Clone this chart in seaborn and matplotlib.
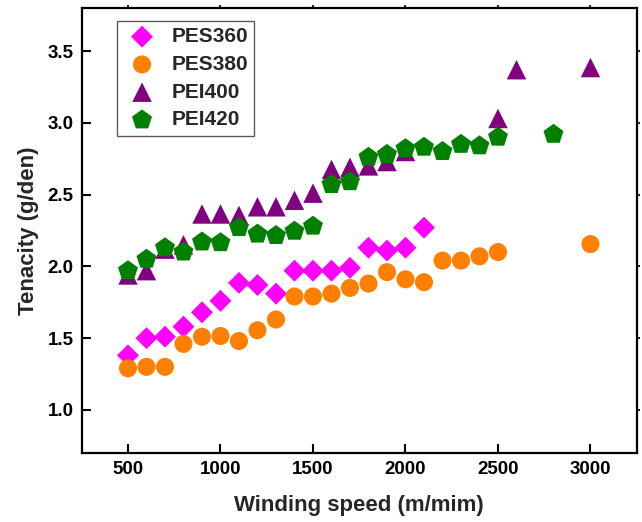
import matplotlib
matplotlib.use("Agg")
import matplotlib.pyplot as plt
import seaborn as sns
import pandas as pd

# ---- data ----
x_pes360 = [500, 600, 700, 800, 900, 1000, 1100, 1200, 1300, 1400, 1500, 1600, 1700, 1800, 1900, 2000, 2100]
y_pes360 = [1.38, 1.50, 1.51, 1.58, 1.68, 1.76, 1.885, 1.87, 1.81, 1.97, 1.97, 1.97, 1.99, 2.13, 2.11, 2.13, 2.27]

x_pes380 = [500, 600, 700, 800, 900, 1000, 1100, 1200, 1300, 1400, 1500, 1600, 1700, 1800, 1900, 2000, 2100, 2200, 2300, 2400, 2500, 3000]
y_pes380 = [1.29, 1.30, 1.30, 1.46, 1.51, 1.515, 1.48, 1.555, 1.63, 1.79, 1.79, 1.81, 1.85, 1.88, 1.96, 1.91, 1.89, 2.04, 2.04, 2.07, 2.10, 2.155]

x_pei400 = [500, 600, 700, 800, 900, 1000, 1100, 1200, 1300, 1400, 1500, 1600, 1700, 1800, 1900, 2000, 2500, 2600, 3000]
y_pei400 = [1.94, 1.97, 2.12, 2.15, 2.365, 2.365, 2.355, 2.415, 2.415, 2.46, 2.51, 2.675, 2.69, 2.70, 2.73, 2.80, 3.03, 3.37, 3.385]

x_pei420 = [500, 600, 700, 800, 900, 1000, 1100, 1200, 1300, 1400, 1500, 1600, 1700, 1800, 1900, 2000, 2100, 2200, 2300, 2400, 2500, 2800]
y_pei420 = [1.97, 2.05, 2.13, 2.10, 2.17, 2.165, 2.27, 2.225, 2.215, 2.245, 2.28, 2.57, 2.59, 2.76, 2.78, 2.82, 2.83, 2.80, 2.85, 2.84, 2.90, 2.92]

series_names = ["PES360", "PES380", "PEI400", "PEI420"]
x_ticks = [500, 1000, 1500, 2000, 2500, 3000]
y_ticks = [1.0, 1.5, 2.0, 2.5, 3.0, 3.5]
x_label = "Winding speed (m/mim)"
y_label = "Tenacity (g/den)"

# ---- style ----
sns.set_style("white")
plt.rcParams["font.family"] = ["Liberation Sans", "DejaVu Sans"]
fs_tick, fs_label, fs_leg = 13.5, 16, 15

fig = plt.figure(figsize=(6.42, 5.22), dpi=100)
ax = fig.add_axes([0.1273, 0.1322, 0.9918 - 0.1273, 0.9847 - 0.1322])

specs = [
    (x_pes360, y_pes360, "D", "#FF00FF", 125),
    (x_pes380, y_pes380, "o", "#FF8000", 169),
    (x_pei400, y_pei400, "^", "#800080", 196),
    (x_pei420, y_pei420, "p", "#008000", 228),
]
handles = []
for name, (xs, ys, mk, col, s) in zip(series_names, specs):
    df = pd.DataFrame({"x": xs, "y": ys})
    sns.scatterplot(data=df, x="x", y="y", marker=mk, color=col, s=s,
                    linewidth=0, edgecolor="none", ax=ax, legend=False, label=name)
    handles.append(ax.collections[-1])

ax.set_xlim(250, 3250)
ax.set_ylim(0.7, 3.8)
ax.set_xticks(x_ticks)
ax.set_xticklabels([str(v) for v in x_ticks])
ax.set_yticks(y_ticks)
ax.set_yticklabels([f"{v:.1f}" for v in y_ticks])

for sp in ax.spines.values():
    sp.set_linewidth(1.6)
    sp.set_color("black")
    sp.set_visible(True)

ax.tick_params(axis="both", direction="in", length=6.5, width=1.5, colors="black",
               labelsize=fs_tick, bottom=True, left=True, top=False, right=False)
ax.tick_params(axis="x", pad=6)
ax.tick_params(axis="y", pad=6)
for lab in ax.get_xticklabels() + ax.get_yticklabels():
    lab.set_fontweight("bold")

# short outward ticks on top/right
secx = ax.secondary_xaxis("top")
secx.set_xticks(x_ticks)
secx.tick_params(direction="out", length=2.5, width=1.5, top=True, labeltop=False)
secx.spines["top"].set_visible(False)
secy = ax.secondary_yaxis("right")
secy.set_yticks(y_ticks)
secy.tick_params(direction="out", length=2.5, width=1.5, right=True, labelright=False)
secy.spines["right"].set_visible(False)

ax.set_xlabel(x_label, fontsize=fs_label, fontweight="bold", labelpad=12)
ax.set_ylabel(y_label, fontsize=fs_label, fontweight="bold", labelpad=6)

leg = ax.legend(handles=handles, labels=series_names, loc="upper left",
                bbox_to_anchor=(0.0636, 0.971), borderaxespad=0,
                prop={"size": fs_leg, "weight": "bold"},
                frameon=True, fancybox=False, edgecolor="#333333",
                borderpad=0.3, handlelength=1.8, handletextpad=0.5,
                labelspacing=0.42, scatterpoints=1)
leg.get_frame().set_linewidth(1.0)

fig.savefig("out.png", dpi=100)
